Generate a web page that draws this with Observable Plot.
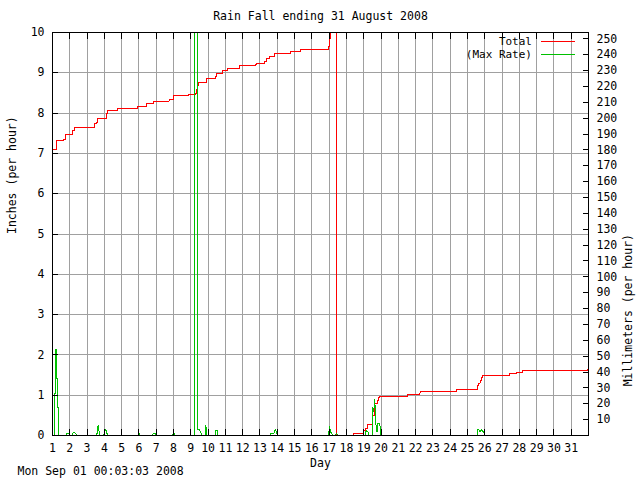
<!DOCTYPE html>
<html>
<head>
<meta charset="utf-8">
<script src="https://cdn.jsdelivr.net/npm/d3@7"></script>
<script src="https://cdn.jsdelivr.net/npm/@observablehq/plot@0.6"></script>
<style>
  html, body { margin: 0; padding: 0; background: #fff; }
  svg { display: block; }
</style>
</head>
<body>
<div id="chart"></div>
<script>
// ---- texts ----
const titleText = "Rain Fall ending 31 August 2008";
const stampText = "Mon Sep 01 00:03:03 2008";
const xLabel = "Day";
const yLabel = "Inches (per hour)";
const y2Label = "Millimeters (per hour)";
const seriesNames = ["Total", "(Max Rate)"];
const seriesColors = ["#ff0000", "#00c000"];

// ---- tick labels ----
const dayTicks = [1,2,3,4,5,6,7,8,9,10,11,12,13,14,15,16,17,18,19,20,21,22,23,24,25,26,27,28,29,30,31];
const gridDays = [2,3,4,5,6,7,8,9,10,11,12,13,14,15,16,17,18,19,20,21,22,23,24,25,26,27,28,29,30,31];
const inchTicks = [0,1,2,3,4,5,6,7,8,9,10];
const gridInches = [1,2,3,4,5,6,7,8,9];
const mmTicks = [10,20,30,40,50,60,70,80,90,100,110,120,130,140,150,160,170,180,190,200,210,220,230,240,250];

// ---- Total (inches, cumulative, step) ----
const totalDay = [1.00,1.22,1.65,1.75,1.90,2.17,2.25,3.44,3.52,3.62,4.12,4.20,4.76,5.93,6.45,6.82,7.76,7.99,8.84,
  9.25,9.31,9.36,9.43,9.90,10.42,10.48,10.84,11.13,11.82,12.73,12.78,13.25,13.35,13.56,13.85,14.76,15.36,16.96,17.02,17.08,
  17.42,18.39,19.00,19.10,19.23,19.53,19.60,19.65,19.77,19.86,19.90,21.55,22.20,22.26,24.36,25.60,25.66,25.73,25.83,25.89,
  27.43,27.82,28.20,31.95,32.00];
const totalVal = [7.09,7.31,7.35,7.46,7.48,7.57,7.64,7.74,7.77,7.86,7.98,8.06,8.11,8.17,8.23,8.30,8.33,8.43,8.45,
  8.49,8.59,8.68,8.77,8.86,8.91,8.99,9.06,9.11,9.17,9.21,9.24,9.28,9.35,9.40,9.47,9.52,9.57,9.66,9.85,10.40,
  0.00,0.04,0.12,0.17,0.27,0.50,0.74,0.79,0.87,0.94,0.97,1.02,1.05,1.09,1.13,1.24,1.30,1.36,1.43,1.49,
  1.53,1.56,1.61,1.65,1.65];

// ---- Max Rate (inches per hour) ----
const rateDay = [1.00,1.13,1.13,1.19,1.19,1.25,1.25,1.31,1.31,1.36,1.36,
  1.80,1.81,1.99,2.00,2.13,2.20,2.30,2.38,2.40,
  3.55,3.60,3.64,3.68,3.72,3.75,
  3.96,4.02,4.09,4.15,4.20,
  5.93,5.97,6.05,6.07,
  6.80,6.82,6.93,6.95,
  7.95,7.98,8.07,8.10,
  9.22,9.23,9.39,9.41,9.50,9.56,9.63,
  9.82,9.86,9.90,9.94,
  10.42,10.43,10.54,10.55,
  13.58,13.60,13.80,13.88,13.95,14.00,
  16.95,17.00,17.03,17.08,17.15,17.20,17.38,17.40,17.47,17.50,
  19.08,19.12,19.18,19.25,19.30,19.33,
  19.50,19.52,19.58,19.64,19.70,19.77,19.81,19.93,19.99,
  25.58,25.60,25.67,25.72,25.80,25.90,25.97,26.00,
  32.00];
const rateVal = [0,0,1.05,1.05,2.13,2.13,1.41,1.41,0.70,0.70,0,
  0,0.04,0.04,0,0,0.07,0.06,0.03,0,
  0,0.10,0.25,0.12,0.06,0,
  0,0.09,0.15,0.05,0,
  0,0.04,0.04,0,
  0,0.05,0.05,0,
  0,0.04,0.04,0,
  0,11,11,0.15,0.14,0.10,0,
  0,0.25,0.15,0,
  0,0.12,0.12,0,
  0,0.05,0.05,0.15,0.10,0,
  0,0.12,0.22,0.10,0.04,0,0,0.05,0.03,0,
  0,0.10,0.12,0.08,0.02,0,
  0,0.70,0.60,0.89,0.29,0.08,0.31,0.31,0,
  0,0.14,0.14,0.10,0.14,0.10,0.07,0,
  0];

const totalData = totalDay.map((d, i) => ({day: d, value: totalVal[i]}));
const rateData = rateDay.map((d, i) => ({day: d, value: rateVal[i]}));
const MM_PER_INCH = 25.4;

const font = "'DejaVu Sans Mono', 'Liberation Mono', monospace";

function legendMark(index, scales, values, dims) {
  const g = d3.create("svg:g")
    .attr("font-family", font)
    .attr("font-size", "11px");
  const right = dims.width - dims.marginRight;
  seriesNames.forEach((name, i) => {
    const y = dims.marginTop + 9.5 + i * 13;
    g.append("text")
      .attr("x", right - 56)
      .attr("y", y)
      .attr("dy", "0.35em")
      .attr("text-anchor", "end")
      .attr("fill", "black")
      .text(name);
    g.append("line")
      .attr("x1", right - 47).attr("x2", right - 13)
      .attr("y1", y).attr("y2", y)
      .attr("stroke", seriesColors[i])
      .attr("stroke-width", 1)
      .attr("shape-rendering", "crispEdges");
  });
  return g.node();
}

const chart = Plot.plot({
  width: 640,
  height: 480,
  marginTop: 32,
  marginBottom: 45,
  marginLeft: 52,
  marginRight: 52,
  style: {fontFamily: font, fontSize: "11.5px", color: "black", background: "white", overflow: "visible"},
  x: {domain: [1, 32]},
  y: {domain: [0, 10]},
  marks: [
    Plot.gridX(gridDays, {stroke: "#a0a0a0", strokeOpacity: 1, shapeRendering: "crispEdges"}),
    Plot.gridY(gridInches, {stroke: "#a0a0a0", strokeOpacity: 1, shapeRendering: "crispEdges"}),
    Plot.line(totalData, {x: "day", y: "value", curve: "step-after", stroke: seriesColors[0], strokeWidth: 1, clip: true, shapeRendering: "crispEdges"}),
    Plot.line(rateData, {x: "day", y: "value", stroke: seriesColors[1], strokeWidth: 1, clip: true, shapeRendering: "crispEdges"}),
    Plot.axisX(dayTicks, {anchor: "bottom", tickSize: -6, tickPadding: 14, label: null, shapeRendering: "crispEdges"}),
    Plot.axisX(dayTicks, {anchor: "top", tickSize: -6, tickFormat: () => "", label: null, shapeRendering: "crispEdges"}),
    Plot.axisY(inchTicks, {anchor: "left", tickSize: -6, tickPadding: 14, label: null, shapeRendering: "crispEdges"}),
    Plot.axisY(mmTicks.map(m => m / MM_PER_INCH), {anchor: "right", tickSize: -6, tickPadding: 14, label: null,
      tickFormat: d => String(Math.round(d * MM_PER_INCH)), shapeRendering: "crispEdges"}),
    Plot.frame({stroke: "black", shapeRendering: "crispEdges"}),
    Plot.text([titleText], {frameAnchor: "top", dy: -16, lineAnchor: "middle", fill: "black"}),
    Plot.text([xLabel], {frameAnchor: "bottom", dy: 28, lineAnchor: "middle", fill: "black"}),
    Plot.text([yLabel], {frameAnchor: "left", dx: -40, rotate: -90, lineAnchor: "middle", fill: "black"}),
    Plot.text([y2Label], {frameAnchor: "right", dx: 40, rotate: -90, lineAnchor: "middle", fill: "black"}),
    Plot.text([stampText], {frameAnchor: "bottom-left", dx: -35, dy: 36, textAnchor: "start", lineAnchor: "middle", fill: "black"}),
    legendMark
  ]
});

document.getElementById("chart").appendChild(chart);
</script>
</body>
</html>
